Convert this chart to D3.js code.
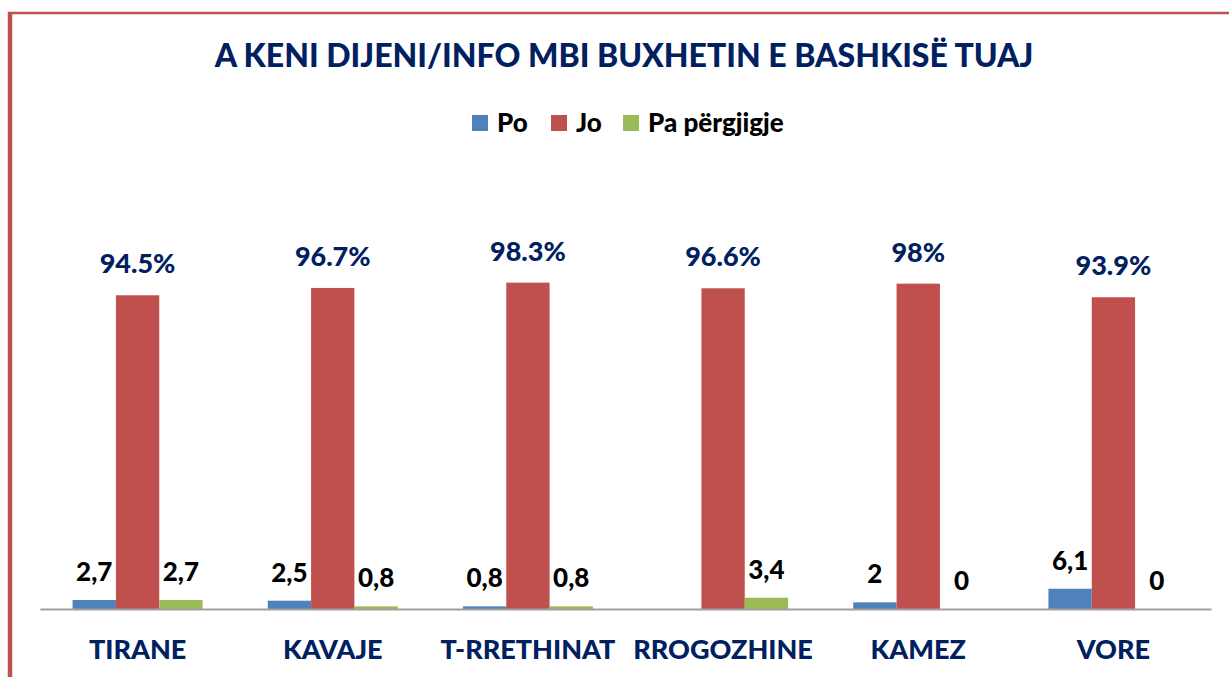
<!DOCTYPE html>
<html>
<head>
<meta charset="utf-8">
<script src="https://cdn.jsdelivr.net/npm/d3@7"></script>
<style>
  body { margin: 0; background: #fff; }
  text { font-family: Lato, "Open Sans", sans-serif; font-weight: 900; }
</style>
</head>
<body>
<script>
// data
const categories = ["TIRANE", "KAVAJE", "T-RRETHINAT", "RROGOZHINE", "KAMEZ", "VORE"];
const series = ["Po", "Jo", "Pa përgjigje"];
const po = [2.7, 2.5, 0.8, null, 2, 6.1];
const jo = [94.5, 96.7, 98.3, 96.6, 98, 93.9];
const pa = [2.7, 0.8, 0.8, 3.4, 0, 0];
const poLabels = ["2,7", "2,5", "0,8", "", "2", "6,1"];
const joLabels = ["94.5%", "96.7%", "98.3%", "96.6%", "98%", "93.9%"];
const paLabels = ["2,7", "0,8", "0,8", "3,4", "0", "0"];
const colors = ["#4F81BD", "#C0504D", "#9BBB59"];

const W = 1229, H = 677;
const svg = d3.select("body").append("svg")
    .attr("width", W)
    .attr("height", H);

// frame
svg.append("line").attr("x1", 8).attr("x2", W).attr("y1", 13).attr("y2", 13)
    .attr("stroke", "#C0504D").attr("stroke-width", 2.5);
svg.append("line").attr("x1", 10).attr("x2", 10).attr("y1", 12).attr("y2", H)
    .attr("stroke", "#C0504D").attr("stroke-width", 4.5);

// title
svg.append("text")
    .attr("x", 624).attr("y", 67)
    .attr("text-anchor", "middle")
    .attr("fill", "#002060")
    .style("font-size", "32px")
    .text("A KENI DIJENI/INFO MBI BUXHETIN E BASHKISË TUAJ");

// scales
const x = d3.scaleBand().domain(categories).range([40, 1211]);
const xs = d3.scaleBand().domain(series).range([x.bandwidth() / 2 - 65, x.bandwidth() / 2 + 65]);
const y = d3.scaleLinear().domain([0, 100]).range([609, 277]);

const rows = [po, jo, pa];
const labels = [poLabels, joLabels, paLabels];

series.forEach((s, si) => {
    const g = svg.append("g");
    const data = categories.map((c, i) => ({c: c, v: rows[si][i], l: labels[si][i]}));
    g.selectAll("rect")
        .data(data.filter(d => d.v != null))
        .join("rect")
        .attr("x", d => x(d.c) + xs(s))
        .attr("width", xs.bandwidth())
        .attr("y", d => y(d.v))
        .attr("height", d => y(0) - y(d.v))
        .attr("fill", colors[si]);
    g.selectAll("text")
        .data(data.filter(d => d.l !== ""))
        .join("text")
        .attr("x", d => x(d.c) + xs(s) + xs.bandwidth() / 2)
        .attr("y", d => y(d.v) - (si == 1 ? 22 : 19))
        .attr("text-anchor", "middle")
        .attr("fill", si == 1 ? "#002060" : "#000")
        .style("font-size", si == 1 ? "27px" : "26px")
        .text(d => d.l);
});

// axis
const xAxis = svg.append("g")
    .attr("transform", "translate(0,609)")
    .call(d3.axisBottom(x).tickSize(0).tickPadding(31));
xAxis.select(".domain").attr("stroke", "#A0A0A0").attr("stroke-width", 2);
xAxis.selectAll(".tick text")
    .attr("fill", "#002060")
    .style("font-size", "27px")
    .style("font-family", "Lato, sans-serif");

// legend
const legendX = [472, 551, 623];
series.forEach((s, i) => {
    svg.append("rect")
        .attr("x", legendX[i]).attr("y", 115)
        .attr("width", 16).attr("height", 16)
        .attr("fill", colors[i]);
    svg.append("text")
        .attr("x", legendX[i] + 25).attr("y", 132)
        .attr("fill", "#000")
        .style("font-size", "26px")
        .text(s);
});
</script>
</body>
</html>
